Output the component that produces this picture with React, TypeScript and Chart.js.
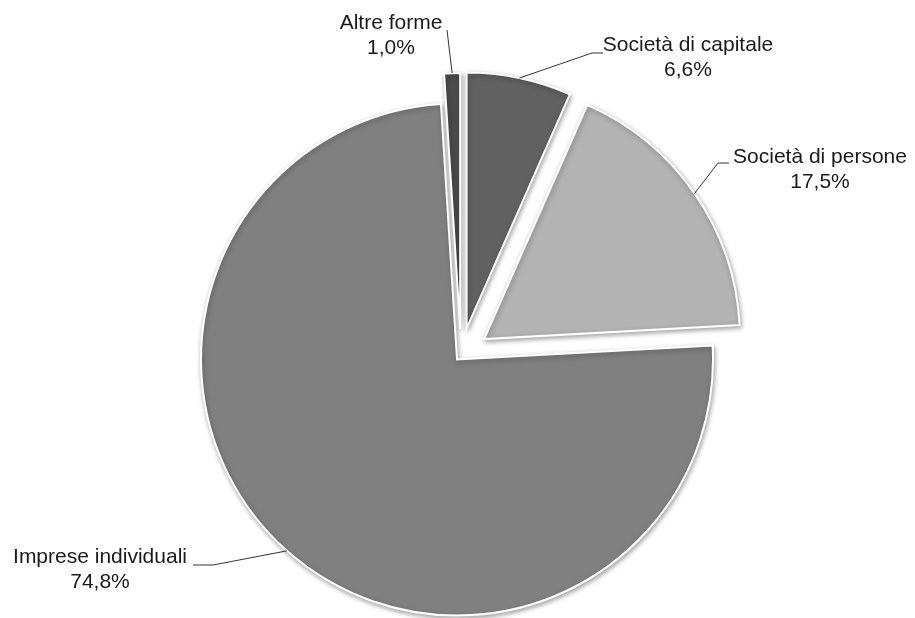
import React, { useEffect, useRef } from "react";
import { Chart, registerables, ArcElement } from "chart.js";

Chart.register(...registerables);

const categories = ["Società di capitale", "Società di persone", "Imprese individuali", "Altre forme"];
const shares = [6.6, 17.5, 74.8, 1.0];
const sliceColors = ["#616161", "#b3b3b3", "#808080", "#4b4b4b"];
const explode = [27, 28, 6, 26];

// label layout: text centre x, first line y, elbow points (label side)
const labelX = [688, 820, 100, 391];
const labelY = [45, 157, 557, 23];
const elbowA: [number, number][] = [[603, 53], [729, 163], [193, 565], [447, 30]];
const elbowB: [number, number][] = [[592, 53], [718, 163], [213, 565], [447, 30]];

const fmt = (v: number) => v.toFixed(1).replace(".", ",") + "%";

export default function App() {
  const ref = useRef<HTMLCanvasElement>(null);
  useEffect(() => {
    if (!ref.current) return;
    const origDraw = ArcElement.prototype.draw;
    const explodePlugin = {
      id: "explode",
      beforeDatasetsDraw(chart: any) {
        const meta = chart.getDatasetMeta(0);
        meta.data.forEach((el: any, i: number) => {
          if (el.__patched) return;
          el.__patched = true;
          el.draw = function (ctx: CanvasRenderingContext2D, area: any) {
            const mid = (this.startAngle + this.endAngle) / 2;
            const d = explode[i] || 0;
            ctx.save();
            ctx.translate(Math.cos(mid) * d, Math.sin(mid) * d);
            ctx.shadowColor = "rgba(0,0,0,0.35)";
            ctx.shadowBlur = 5;
            ctx.shadowOffsetX = 1;
            ctx.shadowOffsetY = 2;
            origDraw.call(this, ctx, area);
            ctx.restore();
          };
        });
      },
      afterDraw(chart: any) {
        const ctx: CanvasRenderingContext2D = chart.ctx;
        const meta = chart.getDatasetMeta(0);
        ctx.save();
        meta.data.forEach((el: any, i: number) => {
          const mid = (el.startAngle + el.endAngle) / 2;
          const r = el.outerRadius + (explode[i] || 0);
          const px = el.x + Math.cos(mid) * r;
          const py = el.y + Math.sin(mid) * r;
          ctx.strokeStyle = "#333";
          ctx.lineWidth = 1;
          ctx.beginPath();
          ctx.moveTo(elbowA[i][0], elbowA[i][1]);
          ctx.lineTo(elbowB[i][0], elbowB[i][1]);
          ctx.lineTo(px, py);
          ctx.stroke();
          ctx.fillStyle = "#1a1a1a";
          ctx.font = "21px 'Liberation Sans', Arial, sans-serif";
          ctx.textAlign = "center";
          ctx.textBaseline = "middle";
          ctx.fillText(categories[i], labelX[i], labelY[i]);
          ctx.fillText(fmt(shares[i]), labelX[i], labelY[i] + 25);
        });
        ctx.restore();
      },
    };
    const chart = new Chart(ref.current, {
      type: "pie",
      data: {
        labels: categories,
        datasets: [
          {
            data: shares,
            backgroundColor: sliceColors,
            borderColor: "#ffffff",
            borderWidth: 2,
            borderJoinStyle: "miter",
            radius: 256,
          } as any,
        ],
      },
      options: {
        responsive: false,
        animation: false,
        layout: { padding: { top: 92, bottom: 0, left: 7, right: 0 } },
        plugins: { legend: { display: false }, tooltip: { enabled: false } },
        events: [],
      } as any,
      plugins: [explodePlugin],
    });
    return () => chart.destroy();
  }, []);
  return (
    <div style={{ position: "absolute", left: 0, top: 0, width: 915, height: 618, background: "#fff" }}>
      <canvas ref={ref} width={915} height={618} />
    </div>
  );
}
